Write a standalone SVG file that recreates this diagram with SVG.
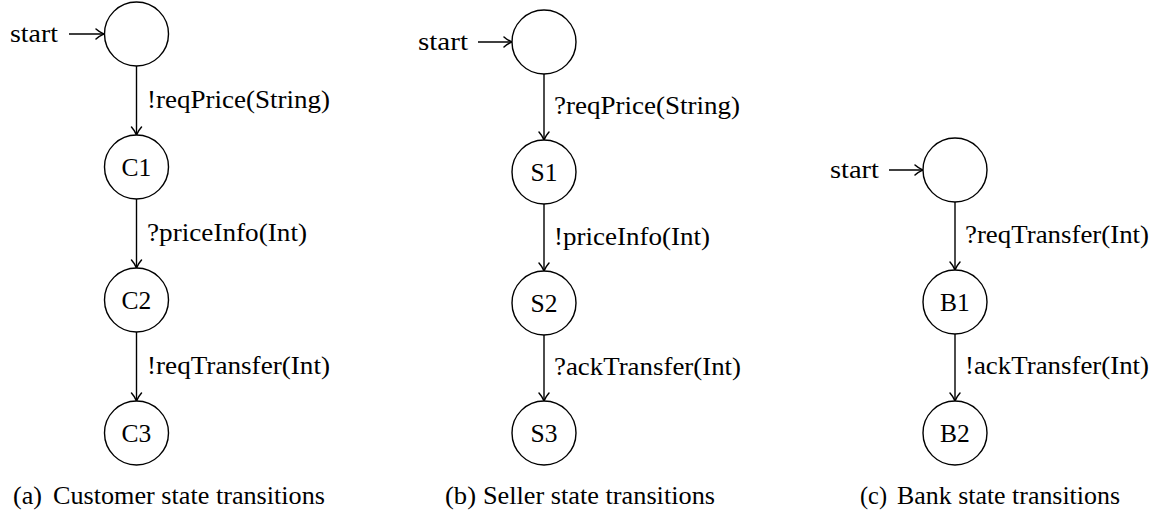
<svg xmlns="http://www.w3.org/2000/svg" width="1167" height="513" viewBox="0 0 1167 513">
<style>
text{font-family:"Liberation Serif","Times New Roman",serif;font-size:25.5px;fill:#000}
.st{fill:#fff;stroke:#000;stroke-width:1.4}
.nl{text-anchor:middle}
.e{stroke:#000;stroke-width:1.4;fill:none;marker-end:url(#ah)}
</style>
<defs>
<marker id="ah" markerUnits="userSpaceOnUse" markerWidth="12" markerHeight="12" refX="0" refY="0" orient="auto" overflow="visible">
<path d="M-8,-5 C-5,-2.2 -1.5,-0.7 0,0 C-1.5,0.7 -5,2.2 -8,5" fill="none" stroke="#000" stroke-width="1.5" stroke-linecap="round"/>
</marker>
</defs>
<rect width="1167" height="513" fill="#fff"/>
<g id="connectors">
<line class="e" x1="69" y1="34" x2="104" y2="34"/>
<line class="e" x1="136.5" y1="66" x2="136.5" y2="135"/>
<line class="e" x1="136.5" y1="199" x2="136.5" y2="268"/>
<line class="e" x1="136.5" y1="332" x2="136.5" y2="401"/>
<line class="e" x1="478" y1="42" x2="512" y2="42"/>
<line class="e" x1="544" y1="74" x2="544" y2="140"/>
<line class="e" x1="544" y1="204" x2="544" y2="271"/>
<line class="e" x1="544" y1="335" x2="544" y2="401"/>
<line class="e" x1="889" y1="170" x2="923" y2="170"/>
<line class="e" x1="955" y1="202" x2="955" y2="270"/>
<line class="e" x1="955" y1="334" x2="955" y2="401"/>
</g>
<g id="edge-labels">
<text x="147" y="108" textLength="183" lengthAdjust="spacingAndGlyphs">!reqPrice(String)</text>
<text x="147" y="241" textLength="160" lengthAdjust="spacingAndGlyphs">?priceInfo(Int)</text>
<text x="147" y="374" textLength="183" lengthAdjust="spacingAndGlyphs">!reqTransfer(Int)</text>
<text x="554" y="114" textLength="186" lengthAdjust="spacingAndGlyphs">?reqPrice(String)</text>
<text x="554" y="245" textLength="156" lengthAdjust="spacingAndGlyphs">!priceInfo(Int)</text>
<text x="554" y="375" textLength="187" lengthAdjust="spacingAndGlyphs">?ackTransfer(Int)</text>
<text x="965" y="243" textLength="184" lengthAdjust="spacingAndGlyphs">?reqTransfer(Int)</text>
<text x="965" y="374" textLength="184" lengthAdjust="spacingAndGlyphs">!ackTransfer(Int)</text>
</g>
<g id="customer">
<g id="c-start"><text x="10" y="42" textLength="48" lengthAdjust="spacingAndGlyphs">start</text></g>
<g id="c0"><circle class="st" cx="136.5" cy="34" r="32"/></g>
<g id="C1"><circle class="st" cx="136.5" cy="167" r="32"/><text class="nl" x="136.5" y="175.5">C1</text></g>
<g id="C2"><circle class="st" cx="136.5" cy="300" r="32"/><text class="nl" x="136.5" y="308.5">C2</text></g>
<g id="C3"><circle class="st" cx="136.5" cy="433" r="32"/><text class="nl" x="136.5" y="441.5">C3</text></g>
<g id="cap-a"><text x="13" y="504" textLength="29" lengthAdjust="spacingAndGlyphs">(a)</text><text x="53" y="504" textLength="272" lengthAdjust="spacingAndGlyphs">Customer state transitions</text></g>
</g>
<g id="seller">
<g id="s-start"><text x="418" y="50" textLength="50" lengthAdjust="spacingAndGlyphs">start</text></g>
<g id="s0"><circle class="st" cx="544" cy="42" r="32"/></g>
<g id="S1"><circle class="st" cx="544" cy="172" r="32"/><text class="nl" x="544" y="180.5">S1</text></g>
<g id="S2"><circle class="st" cx="544" cy="303" r="32"/><text class="nl" x="544" y="311.5">S2</text></g>
<g id="S3"><circle class="st" cx="544" cy="433" r="32"/><text class="nl" x="544" y="441.5">S3</text></g>
<g id="cap-b"><text x="445" y="504" textLength="31" lengthAdjust="spacingAndGlyphs">(b)</text><text x="483" y="504" textLength="232" lengthAdjust="spacingAndGlyphs">Seller state transitions</text></g>
</g>
<g id="bank">
<g id="b-start"><text x="830" y="178" textLength="49" lengthAdjust="spacingAndGlyphs">start</text></g>
<g id="b0"><circle class="st" cx="955" cy="170" r="32"/></g>
<g id="B1"><circle class="st" cx="955" cy="302" r="32"/><text class="nl" x="955" y="310.5">B1</text></g>
<g id="B2"><circle class="st" cx="955" cy="433" r="32"/><text class="nl" x="955" y="441.5">B2</text></g>
<g id="cap-c"><text x="860" y="504" textLength="27" lengthAdjust="spacingAndGlyphs">(c)</text><text x="897" y="504" textLength="223" lengthAdjust="spacingAndGlyphs">Bank state transitions</text></g>
</g>
</svg>
